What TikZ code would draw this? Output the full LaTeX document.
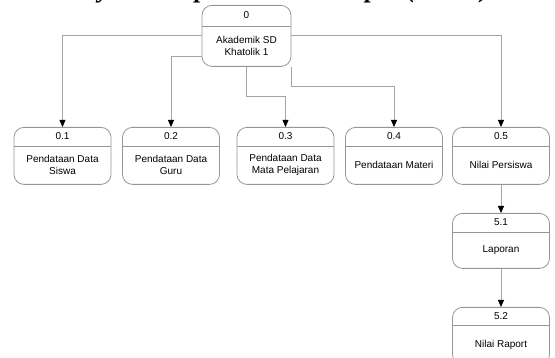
\documentclass[tikz,border=0pt]{standalone}
\usepackage{fontspec}
\setmainfont{Liberation Sans}
\newfontfamily\headingfont{Liberation Serif}
\usetikzlibrary{arrows.meta,calc}

\definecolor{boxline}{RGB}{150,150,150}
\definecolor{connline}{RGB}{165,165,165}

\tikzset{
  pbox/.style={draw=boxline, line width=0.8pt, rounded corners=10pt, inner sep=0pt},
  divline/.style={draw=boxline, line width=0.8pt},
  ptext/.style={inner sep=0pt, align=center, font=\fontsize{10}{12.5}\selectfont, text=black},
  conn/.style={draw=connline, line width=0.8pt,
    -{Triangle[length=7pt,width=6pt,color=black]}},
}

% process box: name, centre x, top y, width, height, header height, number, label
\newcommand\procbox[8]{%
  \node[pbox, minimum width=#4pt, minimum height=#5pt, anchor=north] (#1) at (#2,#3) {};
  \draw[divline] ([yshift=-#6pt]#1.north west) -- ([yshift=-#6pt]#1.north east);
  \node[ptext] (#1-num) at (#2,{#3+#6/2}) {#7};
  \node[ptext] (#1-txt) at (#2,{#3+(#5+#6)/2}) {#8};
}

\begin{document}
\begin{tikzpicture}[x=1pt,y=-1pt]
  \useasboundingbox (0,0) rectangle (555,358);
  \clip (0,0) rectangle (555,358);

  % heading, mostly above the top edge
  \node[anchor=base west, inner sep=0pt, font=\headingfont\bfseries\itshape\fontsize{26}{30}\selectfont]
    (heading) at (0,-2.5) {Hierarchy Plus Input Process Output (HIPO)};

  % top level
  \procbox{b0}{246.5}{5}{89}{61}{21}{0}{Akademik SD\\Khatolik 1}

  % second level
  \procbox{b01}{62.5}{127}{97}{57}{19}{0.1}{Pendataan Data\\Siswa}
  \procbox{b02}{171}{127}{97}{57}{19}{0.2}{Pendataan Data\\Guru}
  \procbox{b03}{285.5}{127}{97}{57}{19}{0.3}{Pendataan Data\\Mata Pelajaran}
  \procbox{b04}{394}{127}{97}{57}{19}{0.4}{Pendataan Materi}
  \procbox{b05}{501}{127}{97}{57}{19}{0.5}{Nilai Persiswa}

  % below 0.5
  \procbox{b51}{501}{213}{97}{55}{19}{5.1}{Laporan}
  \procbox{b52}{501}{307}{97}{57}{18}{5.2}{Nilai Raport}

  % connectors
  \draw[conn] ([yshift=-30.5pt]b0.north west) -| (b01);
  \draw[conn] ([yshift=-51pt]b0.north west) -| (b02);
  \draw[conn] (b0.south) -- ++(0,30) -| (b03);
  \draw[conn] (b0.south east) -- ++(0,19.5) -| (b04);
  \draw[conn] ([yshift=-30.5pt]b0.north east) -| (b05);
  \draw[conn] (b05) -- (b51);
  \draw[conn] (b51) -- (b52);
\end{tikzpicture}
\end{document}
